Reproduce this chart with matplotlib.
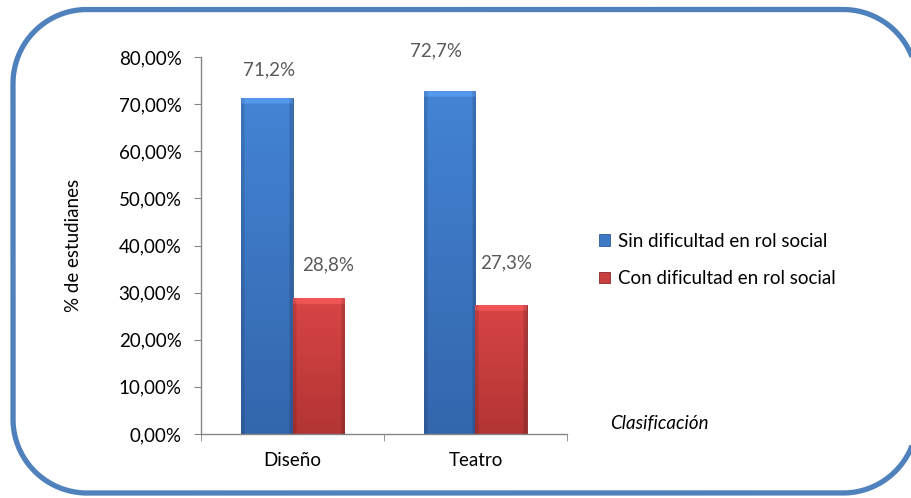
import matplotlib
matplotlib.use("Agg")
import matplotlib.pyplot as plt
import numpy as np
from matplotlib.patches import PathPatch, Patch
from matplotlib.path import Path
from matplotlib.ticker import FixedLocator, FuncFormatter

# ---- data ----
categories = ["Diseño", "Teatro"]
series_names = ["Sin dificultad en rol social", "Con dificultad en rol social"]
sin_dificultad = [0.712, 0.727]
con_dificultad = [0.288, 0.273]
value_labels_sin = ["71,2%", "72,7%"]
value_labels_con = ["28,8%", "27,3%"]
y_ticks = [0.0, 0.1, 0.2, 0.3, 0.4, 0.5, 0.6, 0.7, 0.8]

# ---- style ----
FONT = ["Lato", "DejaVu Sans"]
plt.rcParams["font.family"] = FONT
FS = 13.5
blue_top, blue_bot, blue_edge = np.array([0x43, 0x84, 0xd4]) / 255, np.array([0x34, 0x66, 0xad]) / 255, "#2c5a96"
red_top, red_bot, red_edge = np.array([0xd8, 0x45, 0x45]) / 255, np.array([0xb3, 0x34, 0x34]) / 255, "#8a2626"
border_col = "#4f81bd"
axis_col = "#868686"
label_gray = "#595959"

fig = plt.figure(figsize=(9.11, 4.98), dpi=100)
fig.patch.set_facecolor("white")


def rounded_rect(x0, y0, x1, y1, r, n=40):
    verts = []
    corners = [(x1 - r, y1 - r, 0, 90), (x0 + r, y1 - r, 90, 180),
               (x0 + r, y0 + r, 180, 270), (x1 - r, y0 + r, 270, 360)]
    for cx, cy, a0, a1 in corners:
        a = np.radians(np.linspace(a0, a1, n))
        verts.extend(zip(cx + r * np.cos(a), cy + r * np.sin(a)))
    verts.append(verts[0])
    return Path(verts)


# border in inches (figure is 9.11 x 4.98 in); right side runs just past the edge
border = PathPatch(rounded_rect(0.13, 0.05, 9.17, 4.885, 0.74),
                   transform=fig.dpi_scale_trans, facecolor="none",
                   edgecolor=border_col, linewidth=3.8, zorder=0)
fig.patches.append(border)

ax = fig.add_axes([201 / 911, 1 - 434 / 498, (567 - 201) / 911, (434 - 57) / 498])
ax.set_facecolor("none")

x = np.arange(len(categories))
bw = 0.284
bars_sin = ax.bar(x - bw / 2, sin_dificultad, bw, color=blue_bot, edgecolor=blue_edge, linewidth=0.6, zorder=2)
bars_con = ax.bar(x + bw / 2, con_dificultad, bw, color=red_bot, edgecolor=red_edge, linewidth=0.6, zorder=2)


def shade(bars, ctop, cbot):
    for p in bars:
        x0, w, h = p.get_x(), p.get_width(), p.get_height()
        ny, nx = 300, 60
        t = np.linspace(0, 1, ny)[:, None, None]
        img = ctop[None, None, :] * (1 - t) + cbot[None, None, :] * t
        img = np.repeat(img, nx, axis=1)
        xs = np.linspace(0, 1, nx)
        hfac = np.ones(nx)
        hfac[xs < 0.06] = 0.88
        hfac[xs > 0.94] = 0.85
        img = img * hfac[None, :, None]
        bar_px = h / 0.1 * 47.1
        nb = max(1, int(ny * 6 / bar_px))
        img[:nb] = np.clip(img[:nb] * 1.06 + 0.05, 0, 1)
        im = ax.imshow(img, extent=[x0, x0 + w, 0, h], aspect="auto", zorder=2.5,
                       interpolation="bilinear")
        im.set_clip_path(p)


shade(bars_sin, blue_top, blue_bot)
shade(bars_con, red_top, red_bot)

ax.set_xlim(-0.5, 1.5)
ax.set_ylim(0, 0.8)

# data labels (pixel offsets for layout)
off_sin = [(3, 20), (-14, 32)]
off_con = [(10, 25), (5, 34)]
for bars, labs, offs in ((bars_sin, value_labels_sin, off_sin), (bars_con, value_labels_con, off_con)):
    for p, lab, (dx, dy) in zip(bars, labs, offs):
        ax.annotate(lab, (p.get_x() + p.get_width() / 2, p.get_height()),
                    xytext=(dx * 0.72, dy * 0.72), textcoords="offset points",
                    ha="center", va="bottom", fontsize=FS, color=label_gray)

for s in ("top", "right"):
    ax.spines[s].set_visible(False)
for s in ("left", "bottom"):
    ax.spines[s].set_color(axis_col)
    ax.spines[s].set_linewidth(1.0)

ax.set_yticks(y_ticks)
ax.yaxis.set_major_formatter(FuncFormatter(lambda v, p: f"{v*100:.2f}%".replace(".", ",")))
ax.tick_params(axis="y", length=5, color=axis_col, pad=9, labelsize=FS, labelcolor="black")

ax.set_xticks(x)
ax.set_xticklabels(categories)
ax.xaxis.set_minor_locator(FixedLocator([-0.5, 0.5, 1.5]))
ax.tick_params(axis="x", which="major", length=0, pad=13, labelsize=FS)
ax.tick_params(axis="x", which="minor", length=5, color=axis_col)

ax.set_ylabel("% de estudianes", fontsize=FS)
ax.yaxis.set_label_coords(-119 / 366, 0.5)

fig.text(610 / 911, 1 - 423 / 498, "Clasificación", fontsize=FS, style="italic",
         ha="left", va="center")

handles = [Patch(facecolor=tuple(blue_top * 0.92), edgecolor=blue_edge, linewidth=0.6),
           Patch(facecolor=tuple(red_top * 0.92), edgecolor=red_edge, linewidth=0.6)]
fig.legend(handles, series_names, loc="center left", bbox_to_anchor=(590 / 911, 1 - 260 / 498),
           frameon=False, fontsize=FS, handlelength=0.55, handleheight=0.55,
           handletextpad=0.45, labelspacing=1.1, borderpad=0)

fig.savefig("out.png", dpi=100, facecolor="white")
